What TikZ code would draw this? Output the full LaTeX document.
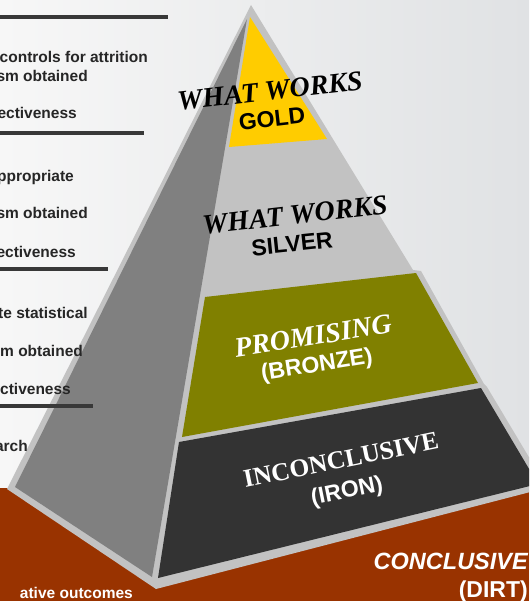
\documentclass[tikz,border=0pt]{standalone}
\usepackage{fontspec}
\setmainfont{Liberation Serif}
\setsansfont{Liberation Sans}
\usepackage{tikz}
\usetikzlibrary{positioning}
\definecolor{bgleft}{RGB}{247,247,247}
\definecolor{bgright}{RGB}{224,226,228}
\definecolor{dirtbrown}{RGB}{153,51,0}
\definecolor{facegray}{RGB}{194,194,194}
\definecolor{sidegray}{RGB}{128,128,128}
\definecolor{tiergold}{RGB}{255,204,0}
\definecolor{tierbronze}{RGB}{128,128,0}
\definecolor{tieriron}{RGB}{51,51,51}
\definecolor{textgray}{RGB}{38,38,38}
\definecolor{rulegray}{RGB}{56,56,56}

\begin{document}
\begin{tikzpicture}[x=1pt, y=-1pt,
    tiername/.style={inner sep=0pt, font=\fontsize{28}{29}\selectfont\bfseries\itshape},
    tierupright/.style={inner sep=0pt, font=\fontsize{25.5}{26}\selectfont\bfseries},
    tiermetal/.style={inner sep=0pt, font=\fontsize{23}{24}\selectfont\sffamily\bfseries},
    crit/.style={anchor=base east, inner sep=0pt, text=textgray, font=\fontsize{15.5}{16}\selectfont\sffamily\bfseries},
    critrule/.style={rulegray, line width=4pt}
]
\useasboundingbox (0,0) rectangle (529,601);
\clip (0,0) rectangle (529,601);

% Background and ground
\shade[left color=bgleft, right color=bgright] (0,0) rectangle (529,601);
\fill[dirtbrown] (0,488) rectangle (529,601);

% Pyramid outline (light edges)
\fill[facegray] (251,5) -- (7,489) -- (156,589) -- (538,490) -- (545,484)
    -- (487,387) -- (484,384) -- (421,271) -- (413,270) -- cycle;
% Side face
\fill[sidegray] (247,19) -- (15,487) -- (152,577) -- cycle;

% Tiers on the front face
\fill[tiergold] (250,17) -- (229,147) -- (327,139) -- cycle;
\fill[tierbronze] (205,297) -- (416,273) -- (478,383) -- (182,437) -- cycle;
\fill[tieriron] (179,442) -- (481,388) -- (538,484) -- (158,578) -- cycle;

% Tier labels
\node[tiername, rotate=6.5] (goldname) at (270,91) {WHAT WORKS};
\node[tiermetal, rotate=6.5] (goldmetal) at (272,119) {GOLD};
\node[tiername, rotate=6.5] (silvername) at (295,215) {WHAT WORKS};
\node[tiermetal, rotate=6] (silvermetal) at (292,244) {SILVER};
\node[tiername, text=white, rotate=9] (bronzename) at (313,336) {PROMISING};
\node[tiermetal, text=white, rotate=9] (bronzemetal) at (317,366) {(BRONZE)};
\node[tierupright, text=white, rotate=11.5] (ironname) at (341,460) {INCONCLUSIVE};
\node[tiermetal, text=white, rotate=11.5] (ironmetal) at (347,492) {(IRON)};
\node[tiermetal, text=white, anchor=east, font=\fontsize{23.5}{24}\selectfont\sffamily\bfseries\itshape] (dirtname) at (528,561) {CONCLUSIVE};
\node[tiermetal, text=white, anchor=east] (dirtmetal) at (528,592) {(DIRT)};

% Criteria list on the left
\draw[critrule] (0,17) -- (168,17);
\node[crit] (gold1) at (148,62.5) {controls for attrition};
\node[crit] (gold2) at (88,81.5) {sm obtained};
\node[crit] (gold3) at (77,119) {ectiveness};
\draw[critrule] (0,133) -- (144,133);
\node[crit] (silver1) at (74,182) {ppropriate};
\node[crit] (silver2) at (88,219) {sm obtained};
\node[crit] (silver3) at (76,257) {ectiveness};
\draw[critrule] (0,269) -- (108,269);
\node[crit] (bronze1) at (88,318) {te statistical};
\node[crit, anchor=base west] (bronze2) at (0,356) {m obtained};
\node[crit, anchor=base west] (bronze3) at (0,394) {ctiveness};
\draw[critrule] (0,406) -- (93,406);
\node[crit] (iron1) at (28,451) {arch};
\node[crit, text=white] (dirt1) at (133,598) {ative outcomes};

\end{tikzpicture}
\end{document}
